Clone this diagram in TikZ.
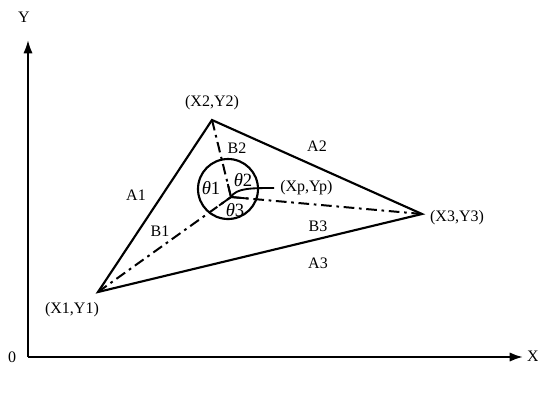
\documentclass[tikz,border=0pt]{standalone}
\usepackage{fontspec}
\setmainfont{Liberation Serif}
\usetikzlibrary{arrows.meta,calc}
\begin{document}
\begin{tikzpicture}[x=0.75pt,y=-0.75pt,
  lbl/.style={font=\fontsize{12}{14}\selectfont, inner sep=0pt},
  tlbl/.style={font=\fontsize{14}{16}\selectfont, inner sep=0pt},
  edge/.style={line width=1.6pt},
  axis/.style={line width=1.6pt,-{Latex[length=10pt,width=7pt]}},
  dd/.style={line width=1.5pt, dash pattern=on 8pt off 3.5pt on 2pt off 3.5pt}]
\useasboundingbox (0,0) rectangle (538,394);
% axes
\coordinate (O) at (28,357);
\coordinate (Yend) at (28,40);
\coordinate (Xend) at (523,357);
\draw[axis] (O) -- (Yend);
\draw[axis] (O) -- (Xend);
\node[lbl] (ylab) at (24,17) {Y};
\node[lbl] (xlab) at (533,356) {X};
\node[lbl] (olab) at (12,357) {0};
% vertices
\coordinate (P1) at (98,292);
\coordinate (P2) at (212,120);
\coordinate (P3) at (422,214);
\coordinate (P) at (231,197);
\coordinate (C) at (228,189);
\draw[edge, line join=miter] (P1) -- (P2) -- (P3) -- cycle;
% dash-dot lines to P
\draw[dd] (P1) -- (P);
\draw[dd] (P2) -- (P);
\draw[dd] (P3) -- (P);
% circle
\draw[line width=1.6pt] (C) circle[x radius=30, y radius=30];
% solid rays inside circle
\draw[line width=1.4pt] (P) -- ($(P)!11pt!(P1)$);
\draw[line width=1.4pt] (P) -- ($(P)!10pt!(P2)$);
\draw[line width=1.4pt] (P) -- ($(P)!13pt!(P3)$);
% leader to label
\node[lbl,anchor=west] (plab) at (280,188) {(Xp,Yp)};
\draw[line width=1.4pt] (P) .. controls (236,188) and (252,188) .. ($(plab.west)+(-6,0)$);
% labels
\node[lbl] (x1) at (72,310) {(X1,Y1)};
\node[lbl] (x2) at (212,103) {(X2,Y2)};
\node[lbl] (x3) at (457,218) {(X3,Y3)};
\node[lbl] (a1) at (136,195) {A1};
\node[lbl] (a2) at (317,146) {A2};
\node[lbl] (a3) at (318,263) {A3};
\node[lbl] (b1) at (160,231) {B1};
\node[lbl] (b2) at (237,148) {B2};
\node[lbl] (b3) at (318,226) {B3};
\node[tlbl] (t1) at (211,188) {\textit{θ}1};
\node[tlbl] (t2) at (243,180) {\textit{θ}2};
\node[tlbl] (t3) at (235,210) {\textit{θ}3};
\end{tikzpicture}
\end{document}
